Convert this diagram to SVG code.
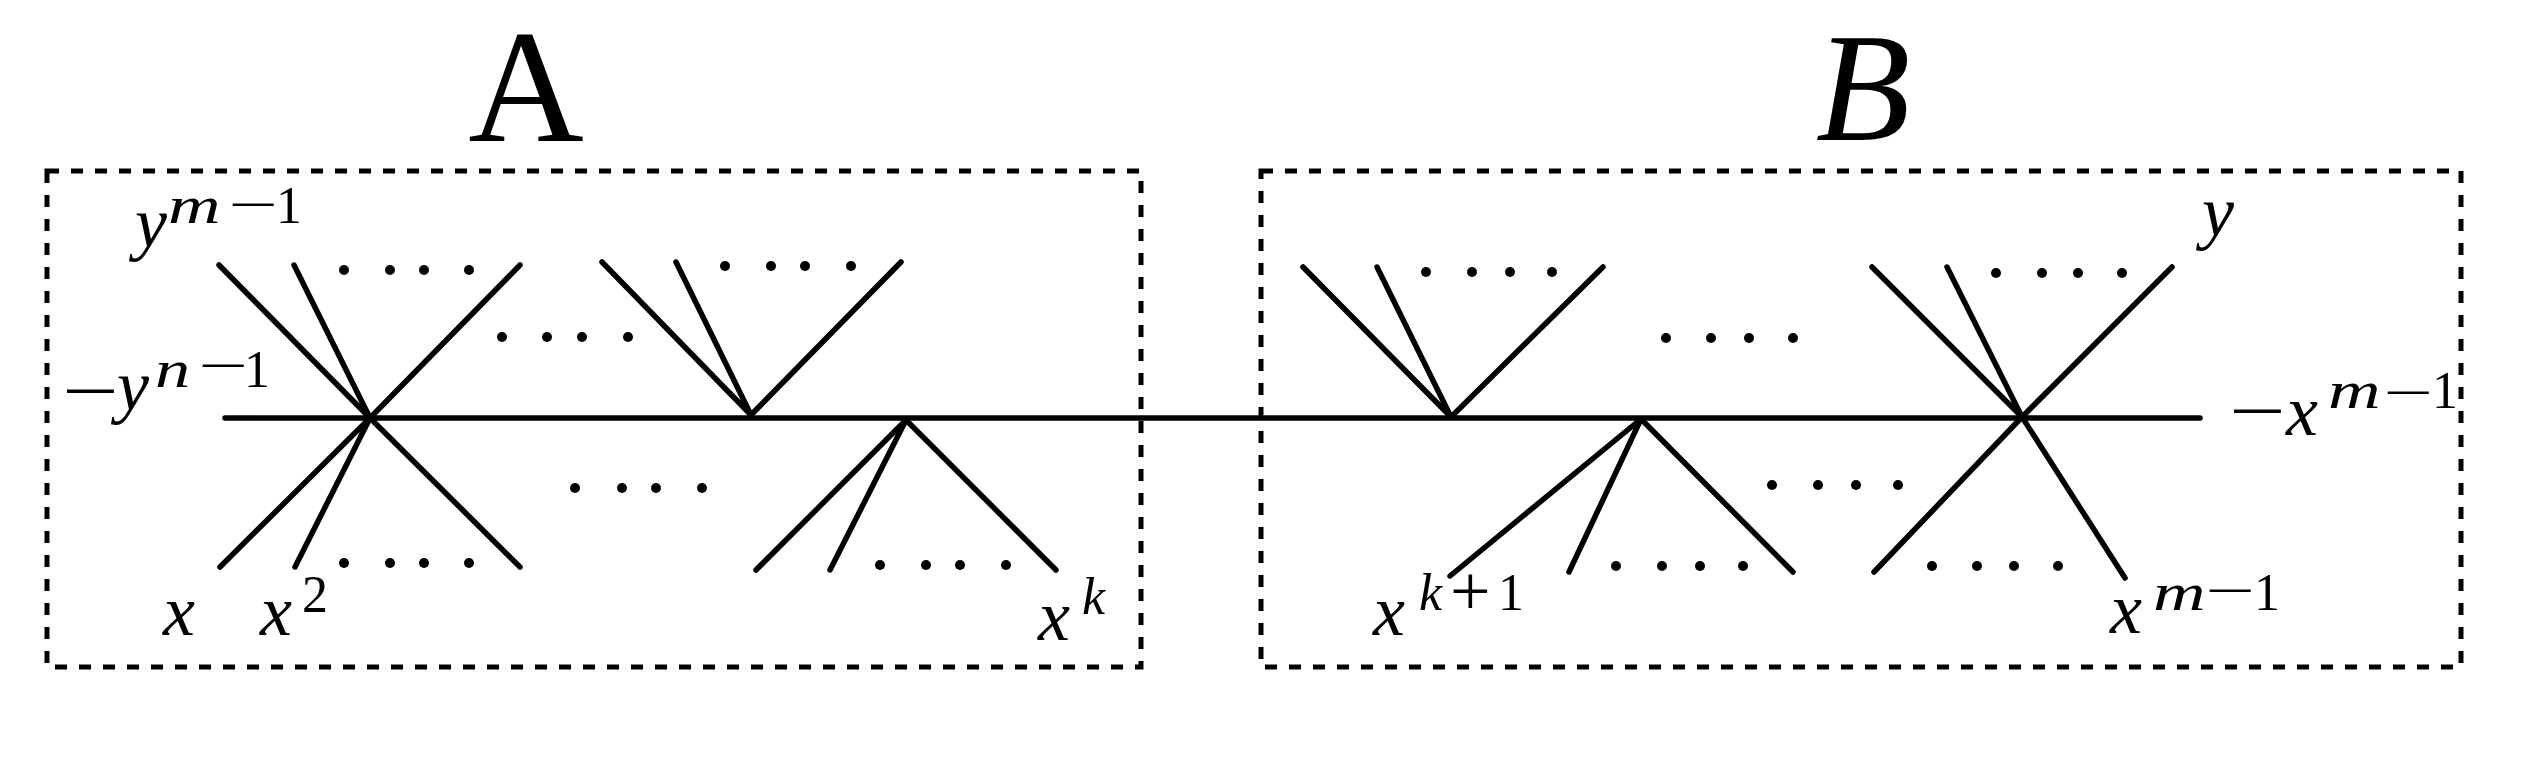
<svg xmlns="http://www.w3.org/2000/svg" width="2523" height="761" viewBox="0 0 2523 761">
<style>
.box{fill:none;stroke:#000;stroke-width:5;stroke-dasharray:12 12}
.e{stroke:#000;stroke-width:5.5;stroke-linecap:round;fill:none}
.d{fill:#000}
text{fill:#000}
.i{font-style:italic}
.big{font-size:72px}
.sup{font-size:52px}
</style>
<rect width="2523" height="761" fill="#fff"/>
<g id="box-A"><rect class="box" x="47" y="171" width="1094" height="496"/></g>
<g id="box-B"><rect class="box" x="1261" y="171" width="1200" height="496"/></g>
<g id="title-A"><text font-family="Liberation Serif, Times New Roman, serif" x="526" y="141" font-size="160" text-anchor="middle">A</text></g>
<g id="title-B"><text font-family="Liberation Serif, Times New Roman, serif" font-style="italic" x="1863" y="140" font-size="155" text-anchor="middle">B</text></g>
<g id="connectors">
<line class="e" x1="225" y1="418" x2="2200" y2="418"/>
</g>
<g id="vertex-A1">
<path class="e" d="M370 418L219 265M370 418L294 265M370 418L520 265M370 418L220 567M370 418L295 567M370 418L520 567"/>
<g class="d"><circle cx="344" cy="270" r="5"/><circle cx="390" cy="270" r="5"/><circle cx="424" cy="270" r="5"/><circle cx="469" cy="270" r="5"/>
<circle cx="344" cy="563" r="5"/><circle cx="390" cy="563" r="5"/><circle cx="424" cy="563" r="5"/><circle cx="469" cy="563" r="5"/></g>
</g>
<g id="vertex-A2">
<path class="e" d="M751 415L602 262M751 415L676 262M751 415L901 262"/>
<g class="d"><circle cx="725" cy="266" r="5"/><circle cx="771" cy="266" r="5"/><circle cx="805" cy="266" r="5"/><circle cx="851" cy="266" r="5"/></g>
</g>
<g id="vertex-A3">
<path class="e" d="M906 420L756 570M906 420L830 570M906 420L1056 570"/>
<g class="d"><circle cx="880" cy="565" r="5"/><circle cx="926" cy="565" r="5"/><circle cx="960" cy="565" r="5"/><circle cx="1006" cy="565" r="5"/></g>
</g>
<g id="dots-A">
<g class="d"><circle cx="502" cy="337" r="5"/><circle cx="547" cy="337" r="5"/><circle cx="582" cy="337" r="5"/><circle cx="628" cy="337" r="5"/>
<circle cx="575" cy="488" r="5"/><circle cx="622" cy="488" r="5"/><circle cx="656" cy="488" r="5"/><circle cx="702" cy="488" r="5"/></g>
</g>
<g id="vertex-B1">
<path class="e" d="M1451 417L1303 267M1451 417L1377 267M1451 417L1603 267"/>
<g class="d"><circle cx="1426" cy="272" r="5"/><circle cx="1472" cy="272" r="5"/><circle cx="1510" cy="272" r="5"/><circle cx="1552" cy="272" r="5"/></g>
</g>
<g id="vertex-B2">
<path class="e" d="M1641 419L1450 576M1641 419L1569 572M1641 419L1793 572"/>
<g class="d"><circle cx="1616" cy="566" r="5"/><circle cx="1662" cy="566" r="5"/><circle cx="1700" cy="566" r="5"/><circle cx="1743" cy="566" r="5"/></g>
</g>
<g id="vertex-B3">
<path class="e" d="M2022 417L1872 267M2022 417L1947 267M2022 417L2172 267M2022 417L1874 572M2022 417L2125 578"/>
<g class="d"><circle cx="1996" cy="273" r="5"/><circle cx="2042" cy="273" r="5"/><circle cx="2078" cy="273" r="5"/><circle cx="2122" cy="273" r="5"/>
<circle cx="1932" cy="566" r="5"/><circle cx="1977" cy="566" r="5"/><circle cx="2014" cy="566" r="5"/><circle cx="2058" cy="566" r="5"/></g>
</g>
<g id="dots-B">
<g class="d"><circle cx="1666" cy="338" r="5"/><circle cx="1711" cy="338" r="5"/><circle cx="1749" cy="338" r="5"/><circle cx="1793" cy="338" r="5"/>
<circle cx="1772" cy="485" r="5"/><circle cx="1818" cy="485" r="5"/><circle cx="1856" cy="485" r="5"/><circle cx="1898" cy="485" r="5"/></g>
</g>
<g id="labels" font-family="Liberation Serif, Times New Roman, serif">
<g id="label-ym1"><text class="i big" x="135" y="247">y</text><text class="i sup" transform="translate(168 223) scale(1.4 1)">m</text><text class="sup" transform="translate(228 222) scale(1.7 1)">−</text><text class="sup" x="276" y="223">1</text></g>
<g id="label-yn1"><text class="big" transform="translate(62 415) scale(1.4 1)">−</text><text class="i big" x="117" y="410">y</text><text class="i sup" transform="translate(155 387) scale(1.35 1)">n</text><text class="sup" transform="translate(198 383) scale(1.7 1)">−</text><text class="sup" x="244" y="387">1</text></g>
<g id="label-x"><text class="i big" x="163" y="635">x</text></g>
<g id="label-x2"><text><tspan class="i big" x="260" y="635">x</tspan><tspan class="sup" x="302" y="612">2</tspan></text></g>
<g id="label-xk"><text><tspan class="i big" x="1038" y="640">x</tspan><tspan class="i sup" x="1082" y="614">k</tspan></text></g>
<g id="label-xk1"><text><tspan class="i big" x="1373" y="635">x</tspan><tspan class="i sup" x="1419" y="610">k</tspan></text><text x="1450" y="615" font-size="72">+</text><text class="sup" x="1498" y="610">1</text></g>
<g id="label-xm1"><text class="i big" x="2110" y="633">x</text><text class="i sup" transform="translate(2153 610) scale(1.4 1)">m</text><text class="sup" transform="translate(2205 608) scale(1.7 1)">−</text><text class="sup" x="2254" y="610">1</text></g>
<g id="label-y"><text class="i big" x="2202" y="236">y</text></g>
<g id="label-negxm1"><text class="big" transform="translate(2229 435) scale(1.4 1)">−</text><text class="i big" x="2286" y="435">x</text><text class="i sup" transform="translate(2328 408) scale(1.4 1)">m</text><text class="sup" transform="translate(2383 410) scale(1.7 1)">−</text><text class="sup" x="2432" y="408">1</text></g>
</g>
</svg>
